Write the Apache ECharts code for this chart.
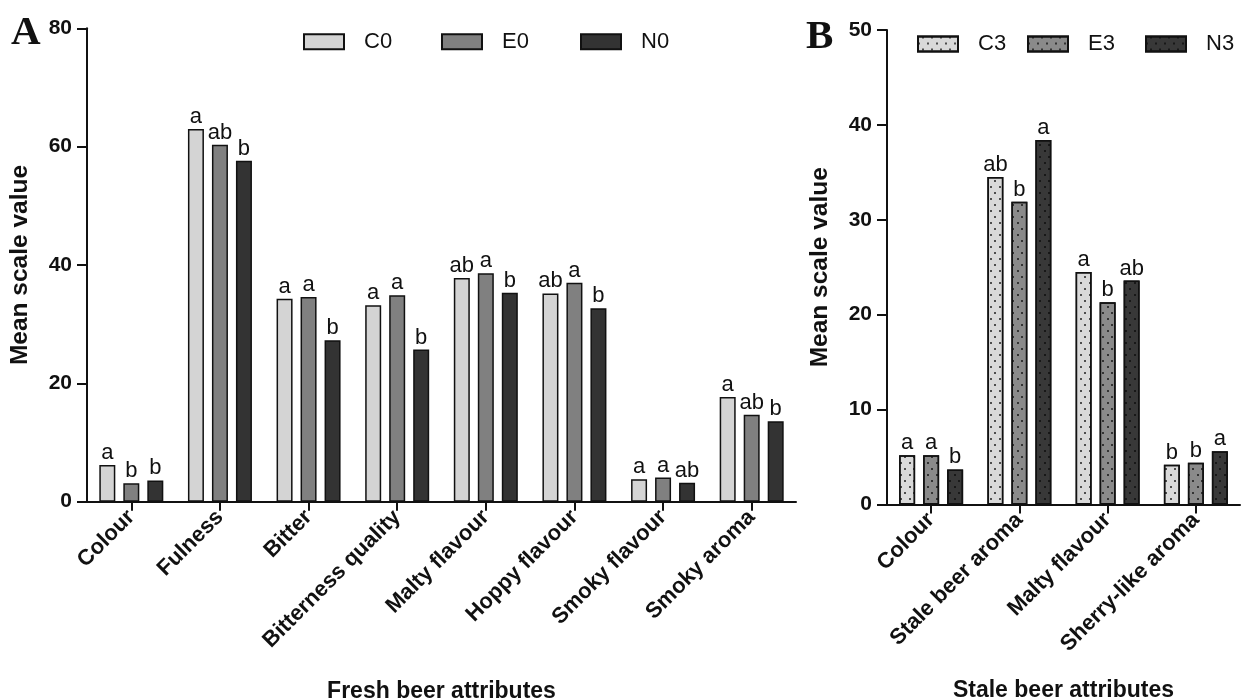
<!DOCTYPE html>
<html>
<head>
<meta charset="utf-8">
<script src="https://cdn.jsdelivr.net/npm/echarts@6/dist/echarts.min.js"></script>
<style>html,body{margin:0;padding:0;background:#fff;}#c{width:1243px;height:698px;}</style>
</head>
<body>
<div id="c"></div>
<script>
// Panel A data
var catsA = ['Colour', 'Fulness', 'Bitter', 'Bitterness quality', 'Malty flavour', 'Hoppy flavour', 'Smoky flavour', 'Smoky aroma'];
var C0 = [6.2, 63.0, 34.3, 33.2, 37.8, 35.2, 3.8, 17.7];
var E0 = [3.1, 60.3, 34.6, 34.9, 38.6, 37.0, 4.1, 14.7];
var N0 = [3.6, 57.6, 27.3, 25.7, 35.3, 32.7, 3.2, 13.6];
var letC0 = ['a', 'a', 'a', 'a', 'ab', 'ab', 'a', 'a'];
var letE0 = ['b', 'ab', 'a', 'a', 'a', 'a', 'a', 'ab'];
var letN0 = ['b', 'b', 'b', 'b', 'b', 'b', 'ab', 'b'];
var ticksA = [0, 20, 40, 60, 80];

// Panel B data
var catsB = ['Colour', 'Stale beer aroma', 'Malty flavour', 'Sherry-like aroma'];
var C3 = [5.2, 34.5, 24.5, 4.2];
var E3 = [5.2, 31.9, 21.3, 4.4];
var N3 = [3.7, 38.4, 23.6, 5.6];
var letC3 = ['a', 'ab', 'a', 'b'];
var letE3 = ['a', 'b', 'b', 'b'];
var letN3 = ['b', 'a', 'ab', 'a'];
var ticksB = [0, 10, 20, 30, 40, 50];

var SANS = '"Liberation Sans", Arial, sans-serif';
var chart = echarts.init(document.getElementById('c'));

function dots() {
  return {
    symbol: 'circle',
    symbolSize: 1,
    color: 'rgba(10,10,10,0.9)',
    dashArrayX: [[1.8, 6.2], [0, 4, 1.8, 2.2]],
    dashArrayY: [1.8, 3.2]
  };
}

function barSeries(name, data, letters, color, axisIdx, decal) {
  var it = { color: color, borderColor: '#111', borderWidth: 1.5 };
  if (decal) it.decal = dots();
  return {
    name: name, type: 'bar', xAxisIndex: axisIdx, yAxisIndex: axisIdx,
    data: data, barWidth: 16, barGap: '50%',
    itemStyle: it,
    emphasis: { disabled: true },
    label: {
      show: true, position: 'top', distance: 1,
      fontFamily: SANS, fontSize: 22, color: '#111',
      formatter: function (p) { return letters[p.dataIndex]; }
    }
  };
}

function legendOne(name, left, top) {
  return {
    data: [name], left: left, top: top, padding: 0, orient: 'horizontal',
    icon: 'rect', itemWidth: 40, itemHeight: 15, selectedMode: false,
    textStyle: { fontFamily: SANS, fontSize: 22, color: '#111', padding: [0, 0, 0, 15], lineHeight: 15 }
  };
}

function yAxis(gridIdx, max, interval, ticks) {
  return {
    type: 'value', gridIndex: gridIdx, min: 0, max: max, interval: interval,
    name: 'Mean scale value', nameLocation: 'middle', nameRotate: 90, nameGap: 54,
    nameTextStyle: { fontFamily: SANS, fontSize: 24.5, fontWeight: 'bold', color: '#111' },
    axisLine: { show: true, lineStyle: { color: '#111', width: 2 } },
    axisTick: { show: true, length: 10, lineStyle: { color: '#111', width: 2 } },
    splitLine: { show: false },
    axisLabel: {
      fontFamily: SANS, fontSize: 21, fontWeight: 'bold', color: '#111', margin: 15,
      formatter: function (v) { return ticks.indexOf(v) >= 0 ? String(v) : ''; }
    }
  };
}

function xAxis(gridIdx, cats, name, gap) {
  return {
    type: 'category', gridIndex: gridIdx, data: cats,
    name: name, nameLocation: 'middle', nameGap: gap,
    nameTextStyle: { fontFamily: SANS, fontSize: 23, fontWeight: 'bold', color: '#111' },
    axisLine: { show: true, lineStyle: { color: '#111', width: 2 } },
    axisTick: { show: true, alignWithLabel: true, length: 9, lineStyle: { color: '#111', width: 2 } },
    axisLabel: {
      interval: 0, rotate: 45, margin: 12,
      fontFamily: SANS, fontSize: 22, fontWeight: 'bold', color: '#111'
    }
  };
}

chart.setOption({
  animation: false,
  backgroundColor: '#fff',
  grid: [
    { left: 87, right: 447, top: 28.3, bottom: 196.3, containLabel: false, outerBoundsMode: 'none' },
    { left: 887, right: 3, top: 30, bottom: 193.5, containLabel: false, outerBoundsMode: 'none' }
  ],
  xAxis: [xAxis(0, catsA, 'Fresh beer attributes', 178), xAxis(1, catsB, 'Stale beer attributes', 175)],
  yAxis: [yAxis(0, 80, 20, ticksA), yAxis(1, 50, 10, ticksB)],
  legend: [
    legendOne('C0', 303, 30.7), legendOne('E0', 441, 30.7), legendOne('N0', 580, 30.7),
    legendOne('C3', 917, 33), legendOne('E3', 1027, 33), legendOne('N3', 1145, 33)
  ],
  graphic: [
    { type: 'text', left: 11, top: 13, style: { text: 'A', font: 'bold 41px "Liberation Serif", "Times New Roman", serif', fill: '#111' } },
    { type: 'text', left: 806, top: 17, style: { text: 'B', font: 'bold 41px "Liberation Serif", "Times New Roman", serif', fill: '#111' } }
  ],
  series: [
    barSeries('C0', C0, letC0, '#d4d4d4', 0, false),
    barSeries('E0', E0, letE0, '#808080', 0, false),
    barSeries('N0', N0, letN0, '#333333', 0, false),
    barSeries('C3', C3, letC3, '#d9d9d9', 1, true),
    barSeries('E3', E3, letE3, '#8a8a8a', 1, true),
    barSeries('N3', N3, letN3, '#383838', 1, true)
  ]
});
</script>
</body>
</html>
